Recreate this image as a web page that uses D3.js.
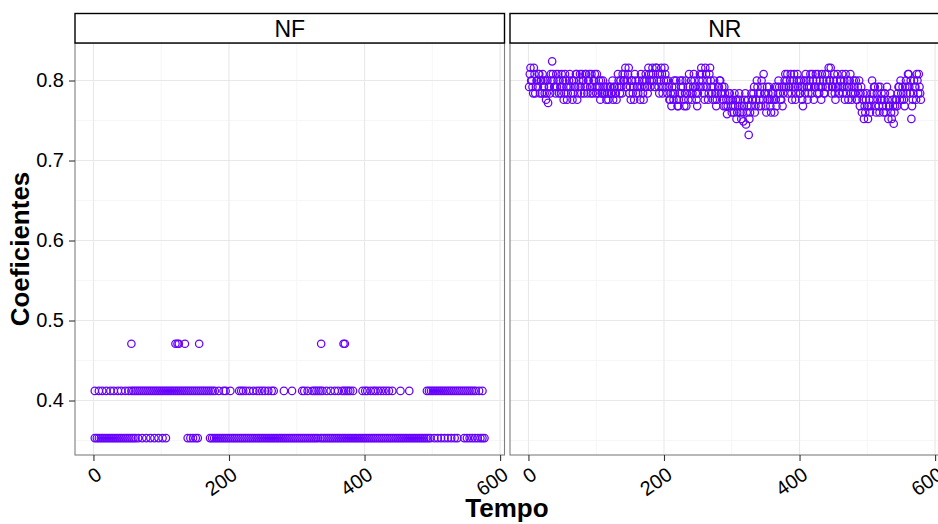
<!DOCTYPE html>
<html><head><meta charset="utf-8">
<script src="https://cdn.jsdelivr.net/npm/d3@7"></script>
<style>
body{margin:0;background:#fff}
text{font-family:"Liberation Sans",Arial,Helvetica,sans-serif}
</style>
</head><body><svg id="c" width="938" height="524"></svg>
<script>
// ---------------- data ----------------
const panels = ["NF", "NR"];
const xTicks = [0, 200, 400, 600];
const xTickLabels = ["0", "200", "400", "600"];
const xMinor = [100, 300, 500];
const yTicks = [0.4, 0.5, 0.6, 0.7, 0.8];
const yTickLabels = ["0.4", "0.5", "0.6", "0.7", "0.8"];
const yMinor = [0.35, 0.45, 0.55, 0.65, 0.75];

// NF: discrete coefficient levels and the times at which each occurs
const nfLevels = [0.353, 0.412, 0.471];
const nfTempoLow = [2,5,8,11,14,17,20,23,26,29,32,35,38,41,44,47,50,53,56,59,62,66,72,78,84,90,96,102,107,
  139,143,147,151,154,
  172,175,178,181,184,187,190,193,196,199,202,205,208,211,214,217,220,223,226,229,232,235,238,241,244,247,
  250,253,256,259,262,265,268,271,274,277,280,283,286,289,292,295,298,301,304,307,310,313,316,319,322,325,
  328,331,335,338,341,344,347,350,353,356,359,362,365,368,371,374,377,380,383,386,389,392,395,398,401,404,
  407,410,413,416,419,422,425,428,431,434,437,440,443,446,449,452,455,458,461,464,467,470,473,476,479,482,
  485,488,491,494,497,
  503,508,513,518,523,528,533,537,547,551,555,559,563,567,571,574,577];
const nfTempoMid = [2,8,13,19,25,30,36,41,47,52,
  56,59,62,65,68,71,74,77,80,83,86,89,92,95,98,101,104,107,110,113,116,119,122,125,128,131,134,137,140,143,
  146,149,152,155,158,161,164,167,170,173,176,179,
  185,192,195,202,
  215,218,221,225,230,236,241,245,249,253,258,263,266,
  281,293,308,311,316,
  323,326,329,332,335,338,344,350,356,361,367,370,373,376,379,383,
  397,401,404,409,413,416,420,424,428,432,436,441,453,466,
  492,495,498,501,504,507,510,513,516,519,522,525,528,531,534,537,540,543,546,549,552,555,558,561,564,569,574];
const nfTempoHigh = [56,121,124,126,135,156,336,369,371];

// NR: coefficients at odd and at even time steps
const nrTempoOdd = d3.range(1, 580, 2);
const nrCoefOdd = [
  0.792,0.816,0.800,0.784,0.808,0.792,0.800,0.808,0.784,0.800,
  0.808,0.792,0.800,0.784,0.772,0.792,0.808,0.824,0.800,0.792,
  0.808,0.800,0.784,0.792,0.808,0.800,0.784,0.800,0.776,0.792,
  0.808,0.784,0.776,0.800,0.792,0.808,0.784,0.800,0.792,0.808,
  0.800,0.792,0.808,0.784,0.800,0.792,0.808,0.784,0.800,0.792,
  0.808,0.784,0.792,0.800,0.784,0.792,0.784,0.776,0.792,0.784,
  0.792,0.784,0.776,0.792,0.784,0.792,0.800,0.784,0.792,0.808,
  0.800,0.816,0.792,0.808,0.784,0.776,0.800,0.792,0.808,0.784,
  0.792,0.800,0.776,0.792,0.784,0.800,0.808,0.792,0.816,0.800,
  0.808,0.816,0.800,0.792,0.816,0.808,0.784,0.800,0.808,0.792,
  0.816,0.800,0.784,0.792,0.776,0.768,0.784,0.800,0.792,0.776,
  0.768,0.784,0.792,0.800,0.776,0.784,0.768,0.792,0.808,0.784,
  0.776,0.792,0.800,0.784,0.768,0.792,0.808,0.816,0.800,0.784,
  0.816,0.792,0.776,0.808,0.800,0.784,0.792,0.776,0.768,0.784,
  0.792,0.800,0.784,0.776,0.792,0.768,0.758,0.776,0.784,0.768,
  0.776,0.760,0.768,0.752,0.776,0.784,0.760,0.768,0.749,0.776,
  0.745,0.768,0.732,0.760,0.784,0.776,0.792,0.768,0.800,0.784,
  0.776,0.768,0.792,0.808,0.784,0.760,0.776,0.792,0.768,0.776,
  0.784,0.760,0.776,0.792,0.800,0.784,0.776,0.768,0.792,0.808,
  0.800,0.784,0.792,0.808,0.776,0.800,0.792,0.784,0.808,0.800,
  0.784,0.792,0.768,0.800,0.808,0.792,0.784,0.800,0.792,0.808,
  0.776,0.792,0.800,0.808,0.784,0.792,0.808,0.800,0.784,0.792,
  0.808,0.816,0.800,0.784,0.792,0.808,0.776,0.800,0.792,0.784,
  0.800,0.808,0.792,0.776,0.784,0.800,0.792,0.808,0.776,0.784,
  0.792,0.800,0.776,0.784,0.768,0.792,0.776,0.752,0.760,0.784,
  0.752,0.776,0.768,0.800,0.784,0.792,0.760,0.776,0.768,0.792,
  0.784,0.768,0.776,0.760,0.792,0.752,0.768,0.760,0.776,0.746,
  0.768,0.776,0.784,0.792,0.800,0.776,0.784,0.768,0.800,0.792,
  0.808,0.784,0.752,0.776,0.800,0.792,0.808,0.784,0.792,0.776
];
const nrTempoEven = d3.range(2, 579, 2);
const nrCoefEven = [
  0.808,0.800,0.792,0.816,0.784,0.800,0.792,0.808,0.800,0.784,
  0.800,0.784,0.776,0.800,0.792,0.784,0.800,0.808,0.792,0.784,
  0.792,0.808,0.800,0.784,0.792,0.776,0.808,0.792,0.784,0.800,
  0.792,0.800,0.784,0.792,0.808,0.776,0.792,0.808,0.784,0.800,
  0.784,0.808,0.792,0.800,0.808,0.784,0.792,0.800,0.808,0.784,
  0.792,0.800,0.776,0.784,0.800,0.784,0.792,0.784,0.776,0.792,
  0.784,0.800,0.792,0.784,0.776,0.808,0.792,0.800,0.784,0.800,
  0.808,0.792,0.800,0.816,0.792,0.800,0.784,0.776,0.800,0.792,
  0.784,0.792,0.808,0.800,0.776,0.792,0.800,0.784,0.808,0.792,
  0.800,0.808,0.792,0.816,0.800,0.792,0.808,0.816,0.784,0.800,
  0.808,0.792,0.800,0.776,0.784,0.792,0.776,0.784,0.800,0.768,
  0.776,0.800,0.784,0.792,0.768,0.800,0.784,0.776,0.792,0.800,
  0.784,0.808,0.792,0.776,0.784,0.800,0.792,0.808,0.792,0.776,
  0.808,0.800,0.784,0.816,0.792,0.776,0.800,0.784,0.776,0.792,
  0.800,0.784,0.792,0.768,0.784,0.776,0.768,0.784,0.776,0.760,
  0.768,0.784,0.776,0.760,0.768,0.776,0.752,0.760,0.768,0.784,
  0.760,0.776,0.752,0.768,0.776,0.784,0.760,0.776,0.792,0.768,
  0.784,0.800,0.776,0.784,0.768,0.792,0.784,0.776,0.760,0.784,
  0.776,0.792,0.768,0.784,0.792,0.776,0.792,0.784,0.800,0.792,
  0.808,0.792,0.800,0.784,0.792,0.808,0.776,0.800,0.792,0.784,
  0.800,0.776,0.792,0.784,0.800,0.776,0.792,0.808,0.784,0.800,
  0.792,0.808,0.784,0.792,0.800,0.776,0.792,0.784,0.808,0.800,
  0.792,0.800,0.816,0.792,0.800,0.784,0.792,0.808,0.784,0.800,
  0.792,0.784,0.800,0.808,0.792,0.776,0.800,0.784,0.792,0.800,
  0.784,0.776,0.792,0.800,0.784,0.760,0.784,0.768,0.776,0.768,
  0.768,0.760,0.784,0.776,0.792,0.768,0.784,0.792,0.760,0.776,
  0.776,0.760,0.784,0.768,0.776,0.768,0.784,0.752,0.768,0.760,
  0.776,0.768,0.792,0.776,0.784,0.792,0.776,0.792,0.784,0.808,
  0.792,0.800,0.768,0.784,0.792,0.776,0.800,0.808,0.784
];

// ---------------- layout ----------------
const svg = d3.select("#c");
const panelTop = 43, panelBottom = 455, stripTop = 13.5;
const panelX = [[75, 504.5], [510, 939.5]];
const xDomain = [-27.2, 606.5], yDomain = [0.3319, 0.8469];
const pointColor = "#6600ff";

const y = d3.scaleLinear().domain(yDomain).range([panelBottom, panelTop]);

const nfPoints = [];
nfTempoLow.forEach(t => nfPoints.push([t, nfLevels[0]]));
nfTempoMid.forEach(t => nfPoints.push([t, nfLevels[1]]));
nfTempoHigh.forEach(t => nfPoints.push([t, nfLevels[2]]));
const nrPoints = nrTempoOdd.map((t, i) => [t, nrCoefOdd[i]])
  .concat(nrTempoEven.map((t, i) => [t, nrCoefEven[i]]));
const panelData = [nfPoints, nrPoints];

panels.forEach((name, pi) => {
  const [x0, x1] = panelX[pi];
  const x = d3.scaleLinear().domain(xDomain).range([x0, x1]);
  const g = svg.append("g");

  g.append("rect").attr("x", x0).attr("y", panelTop).attr("width", x1 - x0)
    .attr("height", panelBottom - panelTop).attr("fill", "#fff");

  // minor grid
  g.selectAll(".ymin").data(yMinor).enter().append("line")
    .attr("x1", x0).attr("x2", x1).attr("y1", d => y(d)).attr("y2", d => y(d))
    .attr("stroke", "#f4f4f4").attr("stroke-width", 0.8);
  g.selectAll(".xmin").data(xMinor).enter().append("line")
    .attr("y1", panelTop).attr("y2", panelBottom).attr("x1", d => x(d)).attr("x2", d => x(d))
    .attr("stroke", "#f4f4f4").attr("stroke-width", 0.8);
  // major grid
  g.selectAll(".ymaj").data(yTicks).enter().append("line")
    .attr("x1", x0).attr("x2", x1).attr("y1", d => y(d)).attr("y2", d => y(d))
    .attr("stroke", "#e8e8e8").attr("stroke-width", 1.1);
  g.selectAll(".xmaj").data(xTicks).enter().append("line")
    .attr("y1", panelTop).attr("y2", panelBottom).attr("x1", d => x(d)).attr("x2", d => x(d))
    .attr("stroke", "#e8e8e8").attr("stroke-width", 1.1);

  // points
  g.append("g").selectAll("circle").data(panelData[pi]).enter().append("circle")
    .attr("cx", d => x(d[0])).attr("cy", d => y(d[1])).attr("r", 3.7)
    .attr("fill", "none").attr("stroke", pointColor).attr("stroke-width", 1.25);

  // border
  g.append("rect").attr("x", x0).attr("y", panelTop).attr("width", x1 - x0)
    .attr("height", panelBottom - panelTop).attr("fill", "none")
    .attr("stroke", "#7f7f7f").attr("stroke-width", 1.1);

  // strip
  g.append("rect").attr("x", x0).attr("y", stripTop).attr("width", x1 - x0)
    .attr("height", panelTop - stripTop).attr("fill", "#fff")
    .attr("stroke", "#000").attr("stroke-width", 1.4);
  g.append("text").attr("x", (x0 + x1) / 2).attr("y", 37).attr("text-anchor", "middle")
    .attr("font-size", "23px").attr("fill", "#000").text(name);

  // x axis
  const xa = g.append("g").attr("transform", `translate(0,${panelBottom})`)
    .call(d3.axisBottom(x).tickValues(xTicks).tickSize(6).tickFormat((d, i) => xTickLabels[i]));
  xa.select(".domain").remove();
  xa.selectAll(".tick line").attr("stroke", "#333").attr("stroke-width", 1.1);
  xa.selectAll(".tick text")
    .attr("font-size", "20px").attr("fill", "#000")
    .attr("text-anchor", "end")
    .attr("x", 0).attr("y", 0).attr("dy", "0.71em")
    .attr("transform", "translate(1,11) rotate(-35)");

  // y axis (left panel only)
  if (pi === 0) {
    const ya = g.append("g").attr("transform", `translate(${x0},0)`)
      .call(d3.axisLeft(y).tickValues(yTicks).tickSize(6).tickPadding(5)
        .tickFormat((d, i) => yTickLabels[i]));
    ya.select(".domain").remove();
    ya.selectAll(".tick line").attr("stroke", "#333").attr("stroke-width", 1.1);
    ya.selectAll(".tick text").attr("font-size", "20px").attr("fill", "#000");
  }
});

// axis titles
svg.append("text").attr("x", 507).attr("y", 517).attr("text-anchor", "middle")
  .attr("font-size", "26px").attr("font-weight", "bold").attr("fill", "#000").text("Tempo");
svg.append("text").attr("transform", `translate(29,${(panelTop + panelBottom) / 2}) rotate(-90)`)
  .attr("text-anchor", "middle").attr("font-size", "26px").attr("font-weight", "bold")
  .attr("fill", "#000").text("Coeficientes");
</script>
</body></html>
